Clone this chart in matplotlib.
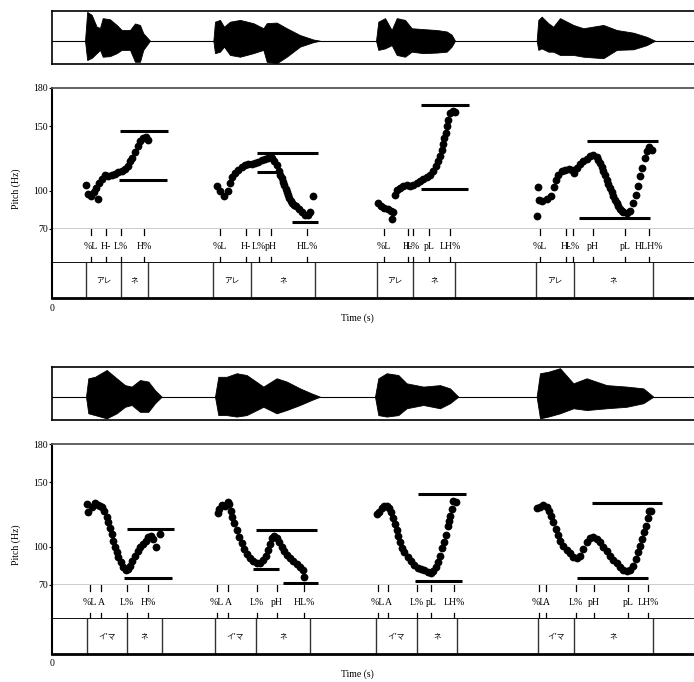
import matplotlib.pyplot as plt

plt.rcParams['font.family'] = ['Liberation Serif', 'Noto Sans CJK JP', 'DejaVu Sans']

# ---- data (time in s, pitch in Hz) ----
t_max = 8.1

# top panel: アレネ
top_words_bounds = [[0.425, 0.8625, 1.2], [2.0125, 2.4875, 3.2875],
                    [4.0625, 4.5125, 5.0375], [6.05, 6.525, 7.5125]]
top_words_labels = ['アレ', 'ネ']
top_tone_times = [[0.4875, 0.675, 0.8625, 1.15],
                  [2.1, 2.425, 2.5875, 2.7375, 3.1875],
                  [4.15, 4.45, 4.5125, 4.7125, 4.975],
                  [6.1, 6.425, 6.5125, 6.7625, 7.1625, 7.4625]]
top_tone_labels = [['%L', 'H-', 'L%', 'H%'],
                   ['%L', 'H-', 'L%', 'pH', 'HL%'],
                   ['%L', 'H-', 'L%', 'pL', 'LH%'],
                   ['%L', 'H-', 'L%', 'pH', 'pL', 'HLH%']]

top_pitch_t = [
    [0.425, 0.454, 0.4875, 0.529, 0.579, 0.546, 0.5875, 0.621, 0.6625, 0.704, 0.746, 0.7875,
     0.829, 0.871, 0.9125, 0.954, 0.975, 1.004, 1.0375, 1.071, 1.1, 1.134, 1.171, 1.196],
    [2.058, 2.1, 2.154, 2.196, 2.225, 2.254, 2.2875, 2.329, 2.371, 2.4125, 2.454, 2.496,
     2.5375, 2.579, 2.621, 2.6625, 2.704, 2.746, 2.779, 2.809, 2.8375, 2.855, 2.871, 2.888,
     2.904, 2.92, 2.934, 2.95, 2.966, 2.985, 3.004, 3.025, 3.046, 3.0875, 3.129, 3.1625,
     3.196, 3.225, 3.266],
    [4.079, 4.1125, 4.154, 4.196, 4.2375, 4.266, 4.246, 4.2875, 4.309, 4.35, 4.391, 4.434,
     4.475, 4.516, 4.559, 4.6, 4.641, 4.684, 4.725, 4.766, 4.796, 4.821, 4.846, 4.871,
     4.8875, 4.904, 4.921, 4.9375, 4.954, 4.979, 5.016, 5.0375],
    [6.058, 6.071, 6.0875, 6.129, 6.184, 6.2375, 6.279, 6.296, 6.329, 6.371, 6.4125, 6.4625,
     6.504, 6.529, 6.559, 6.6, 6.641, 6.684, 6.725, 6.766, 6.809, 6.83, 6.85, 6.87, 6.891,
     6.91, 6.934, 6.955, 6.975, 6.995, 7.016, 7.037, 7.059, 7.08, 7.1, 7.12, 7.141, 7.184,
     7.225, 7.266, 7.296, 7.321, 7.35, 7.379, 7.4125, 7.434, 7.4625, 7.496],
]
top_pitch_hz = [
    [104.6, 97.3, 95.5, 98.9, 93.6, 102.0, 105.9, 109.3, 111.9, 111.1, 111.9, 112.9,
     114.5, 115.5, 116.8, 118.9, 122.8, 125.4, 130.1, 134.5, 138.4, 141.0, 141.5, 139.7],
    [103.3, 99.4, 95.5, 99.4, 105.9, 110.3, 113.7, 116.3, 118.1, 119.7, 120.7, 120.7,
     121.3, 122.3, 123.8, 124.8, 125.4, 125.4, 123.3, 119.7, 115.0, 112.4, 109.8, 107.0,
     104.1, 101.5, 98.9, 96.5, 94.2, 92.2, 90.3, 88.9, 87.7, 85.6, 83.3, 80.7,
     80.7, 83.3, 95.5],
    [90.3, 87.7, 86.4, 85.8, 84.3, 83.3, 77.8, 96.8, 100.7, 102.0, 103.3, 104.1,
     103.3, 104.1, 105.9, 107.7, 109.2, 110.3, 111.9, 115.0, 118.9, 122.8, 126.7, 131.9,
     136.3, 141.0, 144.9, 150.1, 155.3, 160.5, 161.8, 161.3],
    [79.9, 102.5, 92.9, 92.1, 93.7, 95.5, 102.5, 108.5, 111.9, 115.0, 116.3, 117.0,
     116.3, 113.7, 117.6, 120.7, 123.3, 124.8, 126.7, 127.5, 125.9, 123.8, 121.5, 118.5, 115.5,
     112.0, 108.5, 105.3, 102.0, 98.7, 95.5, 92.8, 90.3, 87.9, 85.8, 84.4, 83.3, 82.5,
     84.3, 90.3, 96.8, 103.3, 111.1, 117.6, 125.4, 130.6, 133.7, 131.9],
]
# target lines: (start, end, Hz)
top_lines = [(0.85, 1.446, 146.5), (0.841, 1.434, 108.0),
             (2.566, 3.329, 129.3), (2.566, 2.8125, 114.2), (3.004, 3.329, 75.5),
             (4.6125, 5.2125, 167.0), (4.6125, 5.2, 101.2),
             (6.684, 7.571, 138.9), (6.591, 7.475, 78.6)]

top_wave_t = [
    [0.4125, 0.44, 0.496, 0.558, 0.6, 0.634, 0.725, 0.809, 0.871, 0.975, 1.0375, 1.1, 1.141, 1.225],
    [2.017, 2.0375, 2.1, 2.15, 2.225, 2.35, 2.517, 2.642, 2.684, 2.809, 2.934, 3.1, 3.266, 3.35],
    [4.05, 4.079, 4.1625, 4.246, 4.309, 4.4125, 4.496, 4.641, 4.809, 4.934, 4.996, 5.0375],
    [6.058, 6.079, 6.121, 6.204, 6.266, 6.35, 6.517, 6.642, 6.892, 7.059, 7.267, 7.434, 7.5375],
]
top_wave_up = [
    [0, 0.97, 0.87, 0.47, 0.43, 0.76, 0.72, 0.53, 0.36, 0.36, 0.58, 0.53, 0.25, 0],
    [0, 0.64, 0.70, 0.47, 0.64, 0.70, 0.59, 0.42, 0.59, 0.61, 0.42, 0.19, 0.04, 0],
    [0, 0.64, 0.76, 0.36, 0.76, 0.70, 0.42, 0.39, 0.36, 0.31, 0.20, 0],
    [0, 0.70, 0.81, 0.59, 0.47, 0.76, 0.53, 0.42, 0.53, 0.36, 0.27, 0.13, 0],
]
top_wave_dn = [
    [0, 0.65, 0.58, 0.42, 0.31, 0.54, 0.52, 0.42, 0.31, 0.31, 0.71, 0.71, 0.31, 0],
    [0, 0.42, 0.37, 0.20, 0.48, 0.54, 0.42, 0.31, 0.71, 0.76, 0.54, 0.20, 0.05, 0],
    [0, 0.31, 0.26, 0.15, 0.48, 0.54, 0.37, 0.42, 0.40, 0.37, 0.20, 0],
    [0, 0.31, 0.26, 0.37, 0.37, 0.48, 0.48, 0.54, 0.59, 0.31, 0.29, 0.15, 0],
]

# bottom panel: イ'マネ
bot_words_bounds = [[0.4375, 0.9375, 1.375], [2.0375, 2.55, 3.225],
                    [4.05, 4.5625, 5.0625], [6.075, 6.525, 7.5125]]
bot_words_labels = ["イ'マ", 'ネ']
bot_tone_times = [[0.475, 0.6125, 0.9375, 1.2],
                  [2.0625, 2.2, 2.5625, 2.8125, 3.15],
                  [4.075, 4.2, 4.5625, 4.7375, 5.025],
                  [6.0875, 6.175, 6.55, 6.775, 7.2, 7.45]]
bot_tone_labels = [['%L', 'A', 'L%', 'H%'],
                   ['%L', 'A', 'L%', 'pH', 'HL%'],
                   ['%L', 'A', 'L%', 'pL', 'LH%'],
                   ['%L', 'A', 'L%', 'pH', 'pL', 'LH%']]

bot_pitch_t = [
    [0.434, 0.454, 0.496, 0.5375, 0.571, 0.6, 0.629, 0.654, 0.684, 0.704, 0.725, 0.746,
     0.766, 0.7875, 0.809, 0.829, 0.8625, 0.891, 0.921, 0.946, 0.975, 1.004, 1.0375, 1.071,
     1.1, 1.141, 1.171, 1.204, 1.2375, 1.266, 1.296, 1.35],
    [2.071, 2.0875, 2.121, 2.1625, 2.196, 2.2125, 2.2375, 2.254, 2.279, 2.309, 2.3375, 2.371,
     2.404, 2.4375, 2.475, 2.516, 2.559, 2.6, 2.641, 2.671, 2.696, 2.725, 2.754, 2.779,
     2.809, 2.8375, 2.871, 2.904, 2.9375, 2.975, 3.016, 3.059, 3.1, 3.134, 3.154],
    [4.059, 4.0875, 4.121, 4.154, 4.184, 4.2125, 4.2375, 4.266, 4.2875, 4.309, 4.329, 4.35,
     4.371, 4.404, 4.446, 4.4875, 4.529, 4.571, 4.6125, 4.654, 4.696, 4.7375, 4.766, 4.796,
     4.821, 4.85, 4.879, 4.904, 4.921, 4.946, 4.9625, 4.979, 4.996, 5.016, 5.046],
    [6.059, 6.1, 6.141, 6.184, 6.2125, 6.2375, 6.266, 6.296, 6.321, 6.35, 6.391, 6.434,
     6.475, 6.516, 6.559, 6.6, 6.641, 6.684, 6.725, 6.766, 6.809, 6.85, 6.891, 6.934,
     6.975, 7.016, 7.059, 7.1, 7.141, 7.184, 7.225, 7.266, 7.296, 7.321, 7.35, 7.379,
     7.404, 7.421, 7.446, 7.4625, 7.4875],
]
bot_pitch_hz = [
    [133.2, 126.7, 130.6, 133.7, 132.6, 131.9, 130.6, 128.0, 123.3, 118.9, 114.5, 109.8,
     104.6, 99.4, 95.5, 91.6, 87.7, 84.3, 81.7, 82.5, 85.1, 88.5, 92.9, 96.8,
     99.4, 102.0, 104.6, 107.2, 108.5, 105.9, 99.4, 109.8],
    [125.9, 129.3, 132.6, 131.9, 134.5, 133.2, 128.0, 123.3, 118.1, 112.9, 107.7, 102.5,
     98.1, 94.2, 91.1, 88.5, 86.9, 87.4, 89.5, 92.9, 97.3, 102.0, 106.7, 108.5,
     106.7, 103.3, 99.9, 96.8, 93.6, 91.1, 88.5, 86.4, 84.3, 81.7, 76.5],
    [125.4, 126.7, 130.1, 131.9, 131.9, 130.1, 126.7, 122.3, 117.6, 112.9, 108.5, 103.3,
     98.9, 95.5, 92.1, 89.0, 85.8, 83.3, 82.5, 81.7, 79.9, 79.1, 80.7, 83.8,
     87.7, 92.9, 98.9, 103.3, 109.2, 116.3, 119.7, 124.1, 129.3, 135.8, 134.5],
    [130.1, 130.6, 132.6, 131.1, 128.0, 124.1, 118.9, 113.7, 109.2, 104.6, 100.7, 97.3,
     94.7, 92.1, 91.1, 92.9, 98.1, 103.3, 106.7, 107.2, 105.9, 103.3, 99.9, 96.3,
     92.9, 89.5, 86.9, 84.3, 81.7, 80.7, 81.7, 85.1, 90.3, 95.5, 100.7, 105.9,
     111.1, 116.3, 122.3, 128.0, 128.0],
]
bot_lines = [(0.941, 1.529, 113.4), (0.904, 1.496, 75.2),
             (2.546, 3.309, 112.7), (2.516, 2.8375, 82.2), (2.891, 3.329, 71.3),
             (4.579, 5.171, 141.0), (4.5375, 5.121, 73.4),
             (6.746, 7.629, 133.7), (6.566, 7.454, 75.2)]

bot_wave_t = [
    [0.425, 0.454, 0.5375, 0.683, 0.808, 0.9125, 0.996, 1.1, 1.204, 1.2875, 1.371],
    [2.0375, 2.079, 2.183, 2.308, 2.433, 2.642, 2.808, 2.933, 3.1, 3.246, 3.35],
    [4.0375, 4.079, 4.183, 4.329, 4.433, 4.642, 4.85, 4.975, 5.079],
    [6.058, 6.1, 6.204, 6.35, 6.517, 6.683, 6.933, 7.183, 7.392, 7.517],
]
bot_wave_up = [
    [0, 0.62, 0.67, 0.90, 0.62, 0.39, 0.34, 0.56, 0.51, 0.22, 0],
    [0, 0.67, 0.67, 0.79, 0.73, 0.34, 0.62, 0.51, 0.28, 0.11, 0],
    [0, 0.62, 0.79, 0.73, 0.45, 0.34, 0.39, 0.28, 0],
    [0, 0.79, 0.84, 0.96, 0.45, 0.62, 0.39, 0.34, 0.28, 0],
]
bot_wave_dn = [
    [0, 0.56, 0.62, 0.73, 0.56, 0.34, 0.28, 0.51, 0.51, 0.22, 0],
    [0, 0.62, 0.62, 0.67, 0.62, 0.34, 0.56, 0.45, 0.28, 0.11, 0],
    [0, 0.62, 0.67, 0.62, 0.39, 0.28, 0.39, 0.22, 0],
    [0, 0.73, 0.67, 0.56, 0.39, 0.45, 0.39, 0.34, 0.22, 0],
]

# ---- figure ----
W, H = 694, 682
fig = plt.figure(figsize=(W / 100, H / 100), dpi=100)


def rect(x0, y0, x1, y1):
    return [x0 / W, 1 - y1 / H, (x1 - x0) / W, (y1 - y0) / H]


def draw_panel(dy, words_bounds, words_labels, tone_times, tone_labels,
               pitch_t, pitch_hz, lines, wave_t, wave_up, wave_dn):
    x0, x1 = 52, 700

    # waveform
    axw = fig.add_axes(rect(x0, 11 + dy, x1, 64 + dy))
    axw.axhline(0, color='black', lw=0.8)
    for t, up, dn in zip(wave_t, wave_up, wave_dn):
        axw.fill_between(t, up, [-v for v in dn], color='black', lw=0.6)
    axw.set_xlim(0, t_max)
    axw.set_ylim(-0.785, 1)
    axw.set_xticks([])
    axw.set_yticks([])
    for s in axw.spines.values():
        s.set_linewidth(1.2)

    # pitch
    axp = fig.add_axes(rect(x0, 88 + dy, x1, 229 + dy))
    for t, hz in zip(pitch_t, pitch_hz):
        axp.plot(t, hz, 'o', ms=5.6, color='black', mew=0, clip_on=False)
    for a, b, hz in lines:
        axp.plot([a, b], [hz, hz], color='black', lw=2.2, solid_capstyle='butt')
    axp.set_xlim(0, t_max)
    axp.set_ylim(70, 180)
    axp.set_yticks([70, 100, 150, 180])
    axp.set_xticks([])
    axp.tick_params(axis='y', direction='out', length=2.5, width=0.8, pad=0.5, labelsize=7)
    axp.spines['top'].set_color('#555555')
    axp.spines['top'].set_linewidth(1.3)
    axp.spines['left'].set_linewidth(1.5)
    axp.spines['bottom'].set_linewidth(1.0)
    axp.spines['right'].set_visible(False)

    # tone tier
    axt = fig.add_axes(rect(x0, 229 + dy, x1, 263 + dy))
    for times, labels in zip(tone_times, tone_labels):
        for t, lab in zip(times, labels):
            axt.plot([t, t], [1, 0.83], color='black', lw=0.9)
            axt.plot([t, t], [0, 0.17], color='black', lw=0.9)
            axt.text(t, 0.48, lab, ha='center', va='center', fontsize=7)
    axt.set_xlim(0, t_max)
    axt.set_ylim(0, 1)
    axt.set_xticks([])
    axt.set_yticks([])
    axt.spines['top'].set_visible(False)
    axt.spines['right'].set_visible(False)
    axt.spines['bottom'].set_linewidth(1.3)
    axt.spines['left'].set_linewidth(1.5)

    # word tier
    axx = fig.add_axes(rect(x0, 263 + dy, x1, 298 + dy))
    for b in words_bounds:
        for t in b:
            axx.plot([t, t], [0, 1], color='#333333', lw=1.0)
        for i, lab in enumerate(words_labels):
            axx.text((b[i] + b[i + 1]) / 2, 0.5, lab, ha='center', va='center',
                     fontsize=5.5, family=['Noto Sans CJK JP', 'DejaVu Sans'])
    axx.set_xlim(0, t_max)
    axx.set_ylim(0, 1)
    axx.set_xticks([])
    axx.set_yticks([])
    axx.spines['top'].set_visible(False)
    axx.spines['right'].set_visible(False)
    axx.spines['bottom'].set_linewidth(2.0)
    axx.spines['left'].set_linewidth(1.5)

    fig.text(x0 / W, 1 - (308 + dy) / H, '0', ha='center', va='center', fontsize=7)
    fig.text(357 / W, 1 - (318 + dy) / H, 'Time (s)', ha='center', va='center', fontsize=7)
    fig.text(16 / W, 1 - (189 + dy) / H, 'Pitch (Hz)', ha='center', va='center',
             rotation=90, fontsize=7)


draw_panel(0, top_words_bounds, top_words_labels, top_tone_times, top_tone_labels,
           top_pitch_t, top_pitch_hz, top_lines, top_wave_t, top_wave_up, top_wave_dn)
draw_panel(356, bot_words_bounds, bot_words_labels, bot_tone_times, bot_tone_labels,
           bot_pitch_t, bot_pitch_hz, bot_lines, bot_wave_t, bot_wave_up, bot_wave_dn)

fig.savefig('out.png', dpi=100)
